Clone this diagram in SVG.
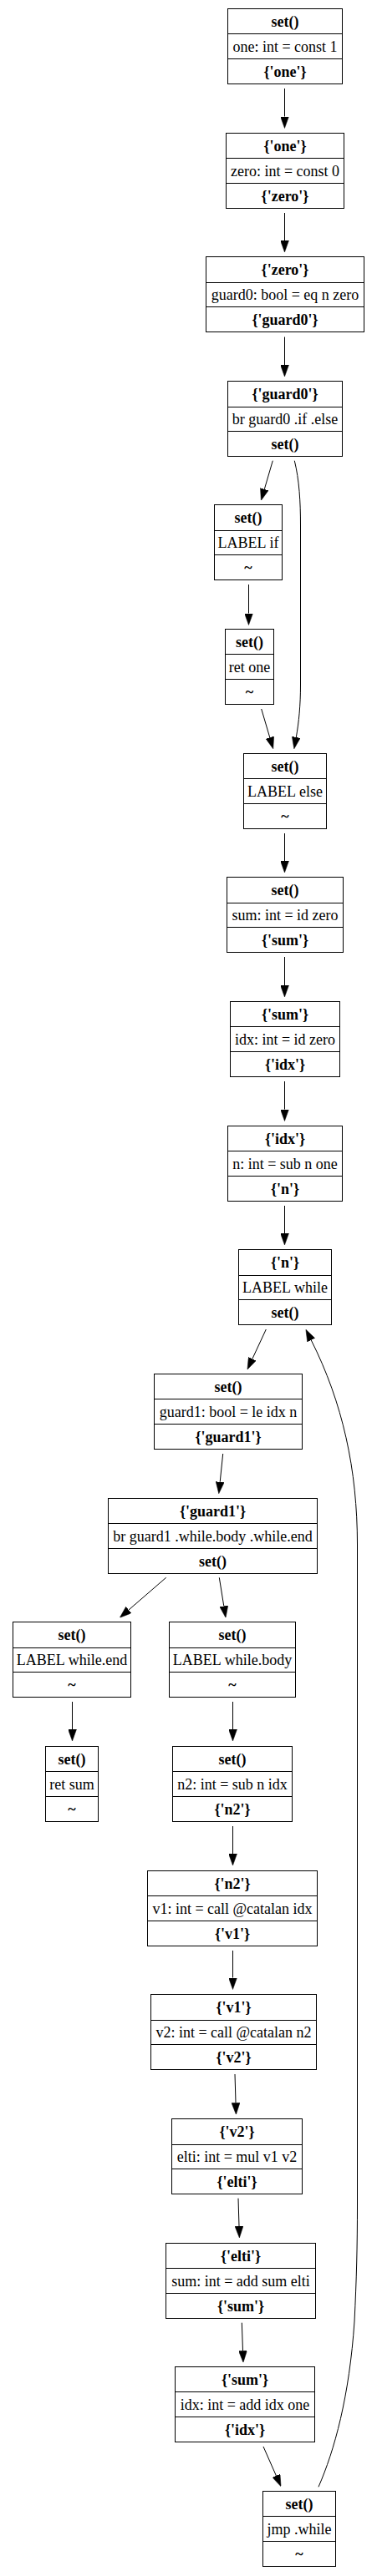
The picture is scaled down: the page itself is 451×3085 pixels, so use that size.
<svg xmlns="http://www.w3.org/2000/svg" width="451" height="3085" viewBox="0 0 451 3085">
<style>
.box{fill:#fff;stroke:#000;stroke-width:1}
.sep{stroke:#000;stroke-width:1}
text{font-family:"Liberation Serif","Times New Roman",serif;font-size:18px;text-anchor:middle;fill:#000}
.b{font-weight:bold}
.e{fill:none;stroke:#000;stroke-width:1;marker-end:url(#ah)}
</style>
<defs>
<marker id="ah" markerUnits="userSpaceOnUse" viewBox="0 0 14 10" markerWidth="14" markerHeight="10" refX="0" refY="5" orient="auto">
<path d="M0,0 L14,5 L0,10 z" fill="#000" stroke="#000" stroke-width="0.5"/>
</marker>
</defs>
<rect width="451" height="3085" fill="#fff"/>
<g id="connectors">
<path class="e" d="M340.5,106 L340.5,139.5"/>
<path class="e" d="M340.5,255 L340.5,288"/>
<path class="e" d="M340.5,403.5 L340.5,437"/>
<path class="e" d="M326.3,551.7 L316.3,585.9"/>
<path class="e" d="M297.5,700 L297.5,734.5"/>
<path class="e" d="M352.3,551.7 C358,575 359.5,600 359.5,630 L359.5,820 C359.5,845 357.5,865 354.3,883"/>
<path class="e" d="M312.7,849 L322.8,883.3"/>
<path class="e" d="M340.5,998 L340.5,1031"/>
<path class="e" d="M340.5,1146 L340.5,1180"/>
<path class="e" d="M340.5,1295 L340.5,1328.5"/>
<path class="e" d="M340.5,1444 L340.5,1477"/>
<path class="e" d="M318.3,1592 L301.9,1627.3"/>
<path class="e" d="M266.7,1741 L263.2,1774.8"/>
<path class="e" d="M198.7,1889.3 L153.9,1928.1"/>
<path class="e" d="M262.3,1889.3 L267.8,1923.5"/>
<path class="e" d="M86.5,2038 L86.5,2071"/>
<path class="e" d="M278.5,2038 L278.5,2071"/>
<path class="e" d="M278.5,2187 L278.5,2220"/>
<path class="e" d="M278.5,2336 L278.5,2368.5"/>
<path class="e" d="M281,2484 L282,2518.3"/>
<path class="e" d="M285,2632.7 L286,2666"/>
<path class="e" d="M289.3,2781.7 L290.5,2815.3"/>
<path class="e" d="M315,2930 L330.4,2964.9"/>
<path class="e" d="M381,2978.3 C400,2935 418,2870 424,2780 C426.5,2730 427.5,2690 427.5,2640 L427.5,1850 C427.5,1760 410,1680 372.2,1604.8"/>
</g>
<g id="n1"><rect class="box" x="272.5" y="10.5" width="137" height="90"/><line class="sep" x1="272.5" y1="40.5" x2="409.5" y2="40.5"/><line class="sep" x1="272.5" y1="70.5" x2="409.5" y2="70.5"/><text class="b" x="341" y="31.5">set()</text><text x="341" y="61.5">one: int = const 1</text><text class="b" x="341" y="91.5">{'one'}</text></g>
<g id="n2"><rect class="box" x="270.5" y="159.5" width="141" height="90"/><line class="sep" x1="270.5" y1="189.5" x2="411.5" y2="189.5"/><line class="sep" x1="270.5" y1="219.5" x2="411.5" y2="219.5"/><text class="b" x="341" y="180.5">{'one'}</text><text x="341" y="210.5">zero: int = const 0</text><text class="b" x="341" y="240.5">{'zero'}</text></g>
<g id="n3"><rect class="box" x="246.5" y="307.5" width="189" height="90"/><line class="sep" x1="246.5" y1="338.5" x2="435.5" y2="338.5"/><line class="sep" x1="246.5" y1="367.5" x2="435.5" y2="367.5"/><text class="b" x="341" y="329">{'zero'}</text><text x="341" y="359">guard0: bool = eq n zero</text><text class="b" x="341" y="388.5">{'guard0'}</text></g>
<g id="n4"><rect class="box" x="272.5" y="456.5" width="137" height="90"/><line class="sep" x1="272.5" y1="487.5" x2="409.5" y2="487.5"/><line class="sep" x1="272.5" y1="516.5" x2="409.5" y2="516.5"/><text class="b" x="341" y="478">{'guard0'}</text><text x="341" y="508">br guard0 .if .else</text><text class="b" x="341" y="537.5">set()</text></g>
<g id="n5"><rect class="box" x="256.5" y="604.5" width="81" height="90"/><line class="sep" x1="256.5" y1="635.5" x2="337.5" y2="635.5"/><line class="sep" x1="256.5" y1="664.5" x2="337.5" y2="664.5"/><text class="b" x="297" y="626">set()</text><text x="297" y="656">LABEL if</text><text class="b" x="297" y="685.5">~</text></g>
<g id="n6"><rect class="box" x="269.5" y="753.5" width="58" height="90"/><line class="sep" x1="269.5" y1="783.5" x2="327.5" y2="783.5"/><line class="sep" x1="269.5" y1="813.5" x2="327.5" y2="813.5"/><text class="b" x="298.5" y="774.5">set()</text><text x="298.5" y="804.5">ret one</text><text class="b" x="298.5" y="834.5">~</text></g>
<g id="n7"><rect class="box" x="291.5" y="902.5" width="99" height="90"/><line class="sep" x1="291.5" y1="932.5" x2="390.5" y2="932.5"/><line class="sep" x1="291.5" y1="962.5" x2="390.5" y2="962.5"/><text class="b" x="341" y="923.5">set()</text><text x="341" y="953.5">LABEL else</text><text class="b" x="341" y="983.5">~</text></g>
<g id="n8"><rect class="box" x="271.5" y="1050.5" width="139" height="90"/><line class="sep" x1="271.5" y1="1081.5" x2="410.5" y2="1081.5"/><line class="sep" x1="271.5" y1="1110.5" x2="410.5" y2="1110.5"/><text class="b" x="341" y="1072">set()</text><text x="341" y="1102">sum: int = id zero</text><text class="b" x="341" y="1131.5">{'sum'}</text></g>
<g id="n9"><rect class="box" x="275.5" y="1199.5" width="131" height="90"/><line class="sep" x1="275.5" y1="1229.5" x2="406.5" y2="1229.5"/><line class="sep" x1="275.5" y1="1259.5" x2="406.5" y2="1259.5"/><text class="b" x="341" y="1220.5">{'sum'}</text><text x="341" y="1250.5">idx: int = id zero</text><text class="b" x="341" y="1280.5">{'idx'}</text></g>
<g id="n10"><rect class="box" x="272.5" y="1348.5" width="137" height="90"/><line class="sep" x1="272.5" y1="1378.5" x2="409.5" y2="1378.5"/><line class="sep" x1="272.5" y1="1408.5" x2="409.5" y2="1408.5"/><text class="b" x="341" y="1369.5">{'idx'}</text><text x="341" y="1399.5">n: int = sub n one</text><text class="b" x="341" y="1429.5">{'n'}</text></g>
<g id="n11"><rect class="box" x="285.5" y="1496.5" width="111" height="90"/><line class="sep" x1="285.5" y1="1527.5" x2="396.5" y2="1527.5"/><line class="sep" x1="285.5" y1="1556.5" x2="396.5" y2="1556.5"/><text class="b" x="341" y="1518">{'n'}</text><text x="341" y="1548">LABEL while</text><text class="b" x="341" y="1577.5">set()</text></g>
<g id="n12"><rect class="box" x="184.5" y="1645.5" width="177" height="90"/><line class="sep" x1="184.5" y1="1675.5" x2="361.5" y2="1675.5"/><line class="sep" x1="184.5" y1="1705.5" x2="361.5" y2="1705.5"/><text class="b" x="273" y="1666.5">set()</text><text x="273" y="1696.5">guard1: bool = le idx n</text><text class="b" x="273" y="1726.5">{'guard1'}</text></g>
<g id="n13"><rect class="box" x="129.5" y="1794.5" width="250" height="90"/><line class="sep" x1="129.5" y1="1824.5" x2="379.5" y2="1824.5"/><line class="sep" x1="129.5" y1="1854.5" x2="379.5" y2="1854.5"/><text class="b" x="254.5" y="1815.5">{'guard1'}</text><text x="254.5" y="1845.5">br guard1 .while.body .while.end</text><text class="b" x="254.5" y="1875.5">set()</text></g>
<g id="n14"><rect class="box" x="15.5" y="1942.5" width="141" height="90"/><line class="sep" x1="15.5" y1="1973.5" x2="156.5" y2="1973.5"/><line class="sep" x1="15.5" y1="2002.5" x2="156.5" y2="2002.5"/><text class="b" x="86" y="1964">set()</text><text x="86" y="1994">LABEL while.end</text><text class="b" x="86" y="2023.5">~</text></g>
<g id="n15"><rect class="box" x="202.5" y="1942.5" width="151" height="90"/><line class="sep" x1="202.5" y1="1973.5" x2="353.5" y2="1973.5"/><line class="sep" x1="202.5" y1="2002.5" x2="353.5" y2="2002.5"/><text class="b" x="278" y="1964">set()</text><text x="278" y="1994">LABEL while.body</text><text class="b" x="278" y="2023.5">~</text></g>
<g id="n16"><rect class="box" x="54.5" y="2091.5" width="63" height="90"/><line class="sep" x1="54.5" y1="2121.5" x2="117.5" y2="2121.5"/><line class="sep" x1="54.5" y1="2151.5" x2="117.5" y2="2151.5"/><text class="b" x="86" y="2112.5">set()</text><text x="86" y="2142.5">ret sum</text><text class="b" x="86" y="2172.5">~</text></g>
<g id="n17"><rect class="box" x="206.5" y="2091.5" width="143" height="90"/><line class="sep" x1="206.5" y1="2121.5" x2="349.5" y2="2121.5"/><line class="sep" x1="206.5" y1="2151.5" x2="349.5" y2="2151.5"/><text class="b" x="278" y="2112.5">set()</text><text x="278" y="2142.5">n2: int = sub n idx</text><text class="b" x="278" y="2172.5">{'n2'}</text></g>
<g id="n18"><rect class="box" x="176.5" y="2240.5" width="203" height="90"/><line class="sep" x1="176.5" y1="2270.5" x2="379.5" y2="2270.5"/><line class="sep" x1="176.5" y1="2300.5" x2="379.5" y2="2300.5"/><text class="b" x="278" y="2261.5">{'n2'}</text><text x="278" y="2291.5">v1: int = call @catalan idx</text><text class="b" x="278" y="2321.5">{'v1'}</text></g>
<g id="n19"><rect class="box" x="180.5" y="2388.5" width="198" height="90"/><line class="sep" x1="180.5" y1="2419.5" x2="378.5" y2="2419.5"/><line class="sep" x1="180.5" y1="2448.5" x2="378.5" y2="2448.5"/><text class="b" x="279.5" y="2410">{'v1'}</text><text x="279.5" y="2440">v2: int = call @catalan n2</text><text class="b" x="279.5" y="2469.5">{'v2'}</text></g>
<g id="n20"><rect class="box" x="205.5" y="2537.5" width="156" height="90"/><line class="sep" x1="205.5" y1="2568.5" x2="361.5" y2="2568.5"/><line class="sep" x1="205.5" y1="2597.5" x2="361.5" y2="2597.5"/><text class="b" x="283.5" y="2559">{'v2'}</text><text x="283.5" y="2589">elti: int = mul v1 v2</text><text class="b" x="283.5" y="2618.5">{'elti'}</text></g>
<g id="n21"><rect class="box" x="198.5" y="2686.5" width="179" height="90"/><line class="sep" x1="198.5" y1="2716.5" x2="377.5" y2="2716.5"/><line class="sep" x1="198.5" y1="2746.5" x2="377.5" y2="2746.5"/><text class="b" x="288" y="2707.5">{'elti'}</text><text x="288" y="2737.5">sum: int = add sum elti</text><text class="b" x="288" y="2767.5">{'sum'}</text></g>
<g id="n22"><rect class="box" x="209.5" y="2834.5" width="167" height="90"/><line class="sep" x1="209.5" y1="2864.5" x2="376.5" y2="2864.5"/><line class="sep" x1="209.5" y1="2894.5" x2="376.5" y2="2894.5"/><text class="b" x="293" y="2855.5">{'sum'}</text><text x="293" y="2885.5">idx: int = add idx one</text><text class="b" x="293" y="2915.5">{'idx'}</text></g>
<g id="n23"><rect class="box" x="314.5" y="2983.5" width="87" height="90"/><line class="sep" x1="314.5" y1="3013.5" x2="401.5" y2="3013.5"/><line class="sep" x1="314.5" y1="3043.5" x2="401.5" y2="3043.5"/><text class="b" x="358" y="3004.5">set()</text><text x="358" y="3034.5">jmp .while</text><text class="b" x="358" y="3064.5">~</text></g>
</svg>
